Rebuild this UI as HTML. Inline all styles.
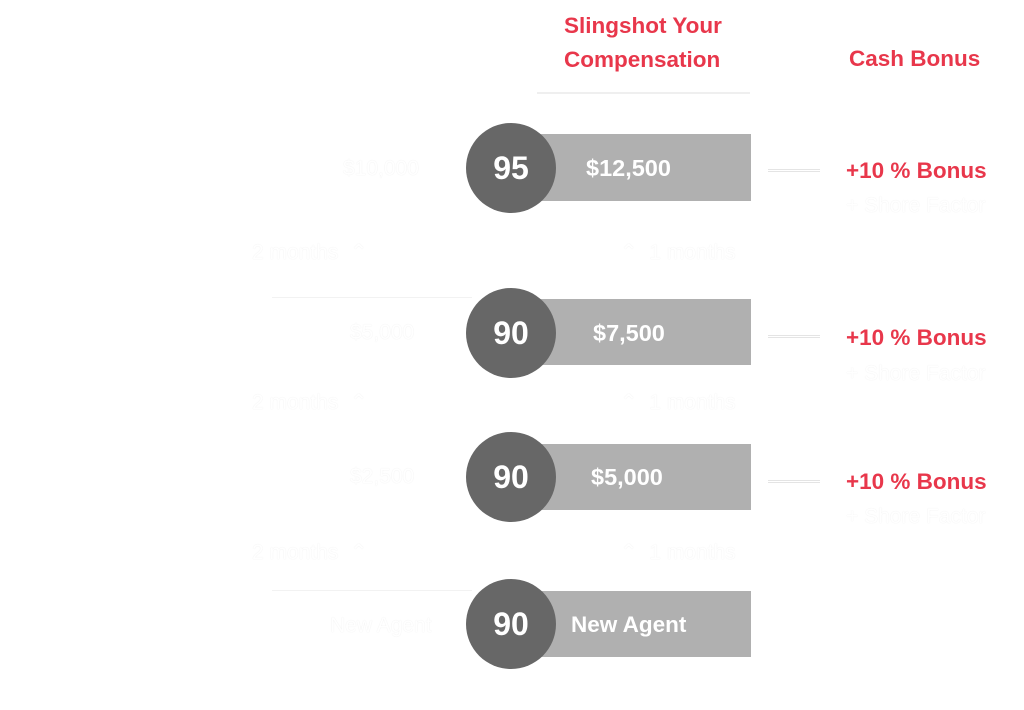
<!DOCTYPE html>
<html><head><meta charset="utf-8"><style>
body{margin:0;width:1024px;height:710px;background:#fff;position:relative;overflow:hidden;font-family:"Liberation Sans",sans-serif;font-weight:bold}
.a{position:absolute;white-space:nowrap}
.red{color:#e8374b}
.ghost{color:#fff;text-shadow:0 0 1px #e6e6e6;font-weight:normal;font-size:21px}
.bar{position:absolute;left:535px;width:216px;background:#b0b0b0}
.c{position:absolute;left:466px;width:90px;height:90px;border-radius:50%;background:#676767;color:#fff;font-size:32px;line-height:90px;text-align:center}
.bt{position:absolute;color:#fff;font-size:23.5px;line-height:26px}
.ln{position:absolute;left:768px;width:52px;border-top:1px solid #e4e4e4;border-bottom:1px solid #e4e4e4;height:1px}
.sep{position:absolute;left:272px;width:200px;border-top:1px solid #f2f2f2}
.bn{font-size:22.5px;line-height:26px}
</style></head><body>
<div class="a red" style="left:564px;top:9px;font-size:22.5px;line-height:34px">Slingshot Your<br>Compensation</div>
<div class="a red" style="left:849px;top:45px;font-size:22.5px;line-height:28px">Cash Bonus</div>
<div class="a" style="left:537px;top:92px;width:213px;border-top:2px solid #efefef"></div>

<div class="sep" style="top:297px"></div>
<div class="sep" style="top:590px"></div>

<div class="bar" style="top:134px;height:67px"></div>
<div class="c" style="top:123px">95</div>
<div class="bt" style="left:586px;top:155px">$12,500</div>
<div class="bar" style="top:299px;height:66px"></div>
<div class="c" style="top:288px">90</div>
<div class="bt" style="left:593px;top:320px">$7,500</div>
<div class="bar" style="top:444px;height:66px"></div>
<div class="c" style="top:432px">90</div>
<div class="bt" style="left:591px;top:464px">$5,000</div>
<div class="bar" style="top:591px;height:66px"></div>
<div class="c" style="top:579px">90</div>
<div class="bt" style="left:571px;top:612px;font-size:22.5px">New Agent</div>

<div class="ln" style="top:169px"></div>
<div class="ln" style="top:335px"></div>
<div class="ln" style="top:480px"></div>
<div class="a red bn" style="left:846px;top:158px">+10 % Bonus</div>
<div class="a red bn" style="left:846px;top:325px">+10 % Bonus</div>
<div class="a red bn" style="left:846px;top:469px">+10 % Bonus</div>
<div class="a ghost" style="left:846px;top:194px">+ Shore Factor</div>
<div class="a ghost" style="left:846px;top:362px">+ Shore Factor</div>
<div class="a ghost" style="left:846px;top:505px">+ Shore Factor</div>

<div class="a ghost" style="left:343px;top:157px">$10,000</div>
<div class="a ghost" style="left:350px;top:321px">$5,000</div>
<div class="a ghost" style="left:350px;top:465px">$2,500</div>
<div class="a ghost" style="left:330px;top:614px">New Agent</div>
<div class="a ghost" style="left:252px;top:240px">2 months &nbsp;⌃</div>
<div class="a ghost" style="left:252px;top:390px">2 months &nbsp;⌃</div>
<div class="a ghost" style="left:252px;top:540px">2 months &nbsp;⌃</div>
<div class="a ghost" style="left:620px;top:240px">⌃ &nbsp;1 months</div>
<div class="a ghost" style="left:620px;top:390px">⌃ &nbsp;1 months</div>
<div class="a ghost" style="left:620px;top:540px">⌃ &nbsp;1 months</div>
</body></html>
